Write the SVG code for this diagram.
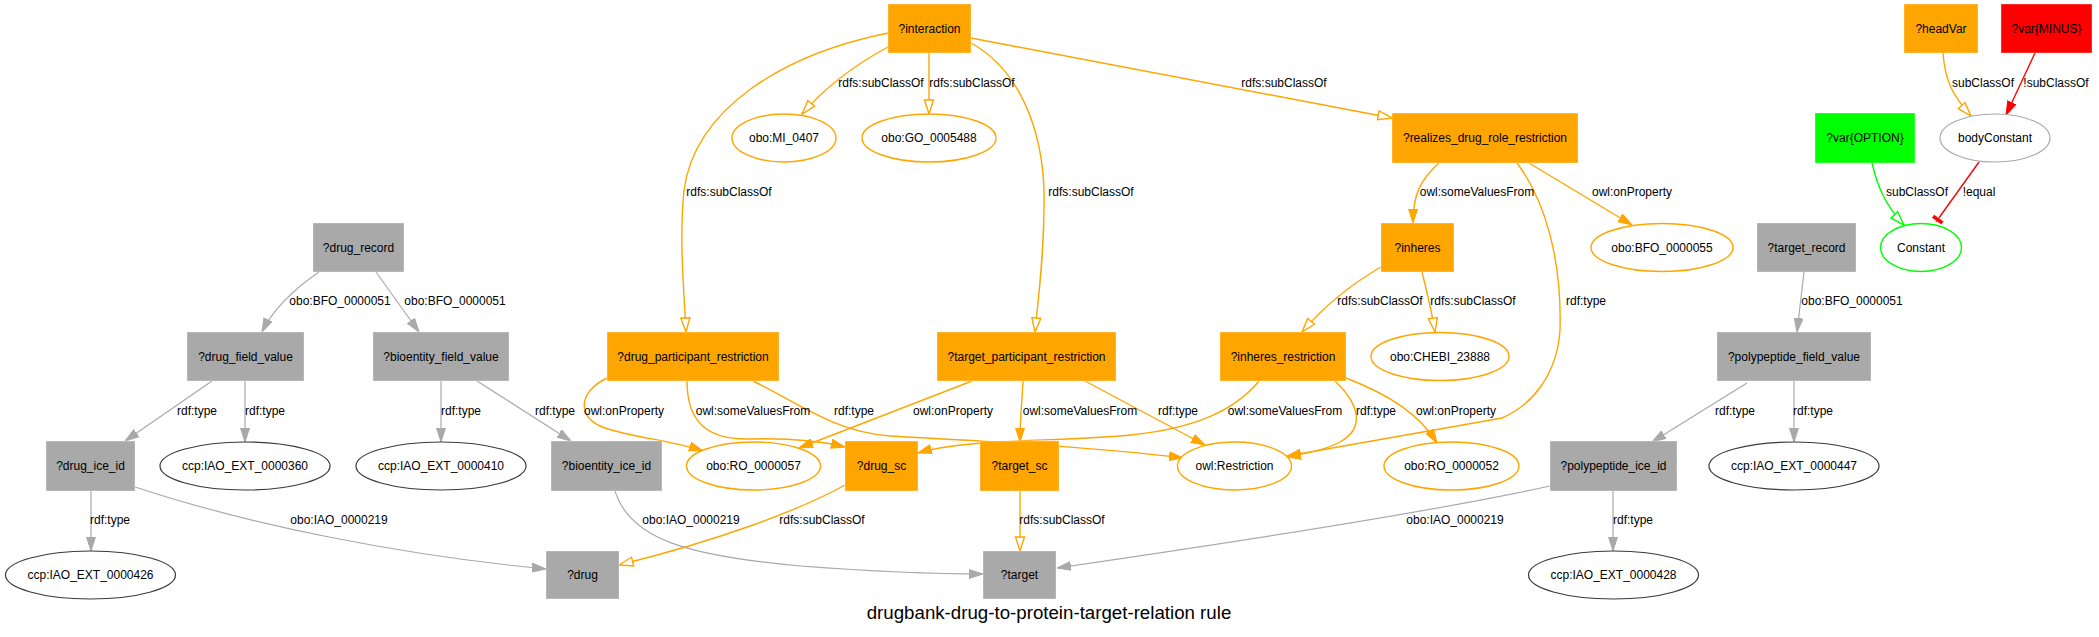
<svg xmlns="http://www.w3.org/2000/svg" width="2099" height="637" viewBox="0 0 2099 637">
<style>
text{font-family:"Liberation Sans",Arial,Helvetica,sans-serif;font-size:12px;fill:#000;text-anchor:middle}
.title{font-size:18.7px}
.bo{fill:#FFA500}
.bg{fill:#A9A9A9}
.br{fill:#FF0000}
.bn{fill:#00FF00}
rect{stroke:#fff;stroke-opacity:.35;stroke-width:1}
.eo{fill:#fff;stroke:#FFA500;stroke-width:1.4}
.ek{fill:#fff;stroke:#3a3a3a;stroke-width:1.2}
.eg{fill:#fff;stroke:#A9A9A9;stroke-width:1.2}
.en{fill:#fff;stroke:#00FF00;stroke-width:1.4}
.co path{fill:none}
.o{stroke:#FFA500;stroke-width:1.4}
.g{stroke:#A9A9A9;stroke-width:1.2}
.r{stroke:#FF0000;stroke-width:1.4}
.n{stroke:#00FF00;stroke-width:1.4}
.of{marker-end:url(#aof)}
.oh{marker-end:url(#aoh)}
.gf{marker-end:url(#agf)}
</style>
<defs>
<marker id="aof" viewBox="0 0 14 10" refX="14" refY="5" markerWidth="14" markerHeight="10" markerUnits="userSpaceOnUse" orient="auto"><path d="M0,0.5 L14,5 L0,9.5 z" fill="#FFA500" stroke="#FFA500" stroke-width="1"/></marker>
<marker id="aoh" viewBox="-1 -1 16 12" refX="14" refY="5" markerWidth="16" markerHeight="12" markerUnits="userSpaceOnUse" orient="auto"><path d="M0,0.5 L14,5 L0,9.5 z" fill="#fff" stroke="#FFA500" stroke-width="1.4"/></marker>
<marker id="agf" viewBox="0 0 14 10" refX="14" refY="5" markerWidth="14" markerHeight="10" markerUnits="userSpaceOnUse" orient="auto"><path d="M0,0.5 L14,5 L0,9.5 z" fill="#A9A9A9" stroke="#A9A9A9" stroke-width="1"/></marker>
<marker id="arf" viewBox="0 0 14 10" refX="14" refY="5" markerWidth="14" markerHeight="10" markerUnits="userSpaceOnUse" orient="auto"><path d="M0,0.5 L14,5 L0,9.5 z" fill="#FF0000" stroke="#FF0000" stroke-width="1"/></marker>
<marker id="anh" viewBox="-1 -1 16 12" refX="14" refY="5" markerWidth="16" markerHeight="12" markerUnits="userSpaceOnUse" orient="auto"><path d="M0,0.5 L14,5 L0,9.5 z" fill="#fff" stroke="#00FF00" stroke-width="1.4"/></marker>
<marker id="art" viewBox="0 0 8 12" refX="7" refY="6" markerWidth="8" markerHeight="12" markerUnits="userSpaceOnUse" orient="auto"><rect x="2" y="0" width="4" height="12" fill="#FF0000" stroke="none"/></marker>
</defs>
<rect width="2099" height="637" fill="#fff" stroke="none"/>

<g id="connectors" class="co">
<path class="o oh" d="M888,47 C860,62 830,82 802,114"/>
<path class="o oh" d="M929,53 L929,114"/>
<path class="o oh" d="M888,33 C780,55 695,110 684,190 C679,240 684,290 686,332"/>
<path class="o oh" d="M971,43 C1020,70 1042,130 1044,190 C1045,250 1038,300 1035,332"/>
<path class="o oh" d="M971,38 L1392,118"/>
<path class="o of" d="M1439,163 C1420,180 1413,195 1413,223"/>
<path class="o of" d="M1529,163 L1632,225"/>
<path class="o of" d="M1517,163 C1545,200 1562,260 1560,330 C1557,375 1532,405 1502,418 L1287,456"/>
<path class="o oh" d="M1381,267 C1350,285 1325,305 1302,332"/>
<path class="o oh" d="M1422,272 C1427,292 1432,312 1435,332"/>
<path class="o of" d="M607,378 C578,392 576,418 605,428 C635,438 670,440 703,451"/>
<path class="o of" d="M687,381 C687,420 705,440 750,439 C790,438 820,441 845,447"/>
<path class="o of" d="M753,381 C800,404 835,432 890,436 C960,440 1090,446 1183,458"/>
<path class="o of" d="M972,381 L799,448"/>
<path class="o of" d="M1023,381 C1022,400 1020,420 1020,442"/>
<path class="o of" d="M1085,381 L1205,445"/>
<path class="o of" d="M1259,381 C1235,410 1195,430 1120,436 C1030,442 960,440 918,453"/>
<path class="o of" d="M1335,381 C1360,405 1365,428 1340,442 C1325,450 1305,454 1287,457"/>
<path class="o of" d="M1346,378 C1390,395 1420,415 1437,443"/>
<path class="o oh" d="M845,485 C800,510 720,540 619,565"/>
<path class="o oh" d="M1020,491 L1020,551"/>
<path class="g gf" d="M319,272 C300,285 275,305 262,332"/>
<path class="g gf" d="M376,272 L419,332"/>
<path class="g gf" d="M212,381 L125,441"/>
<path class="g gf" d="M245,381 L245,442"/>
<path class="g gf" d="M441,381 L441,442"/>
<path class="g gf" d="M477,381 L571,441"/>
<path class="g gf" d="M91,491 L91,551"/>
<path class="g gf" d="M135,487 C250,525 400,555 546,569"/>
<path class="g gf" d="M615,491 C630,540 690,556 800,566 C880,572 940,574 983,574"/>
<path class="g gf" d="M1804,272 L1797,332"/>
<path class="g gf" d="M1747,383 L1652,442"/>
<path class="g gf" d="M1794,381 L1794,442"/>
<path class="g gf" d="M1613,491 L1613,551"/>
<path class="g gf" d="M1550,486 C1450,508 1250,540 1057,568"/>
<path class="o oh" d="M1943,53 C1945,80 1952,95 1971,116"/>
<path class="r" marker-end="url(#arf)" d="M2035,53 L2006,115"/>
<path class="n" marker-end="url(#anh)" d="M1872,163 C1877,185 1885,205 1904,225"/>
<path class="r" marker-end="url(#art)" d="M1979,162 L1936,222"/>

<text x="881" y="87">rdfs:subClassOf</text>
<text x="972" y="87">rdfs:subClassOf</text>
<text x="729" y="196">rdfs:subClassOf</text>
<text x="1091" y="196">rdfs:subClassOf</text>
<text x="1284" y="87">rdfs:subClassOf</text>
<text x="1477" y="196">owl:someValuesFrom</text>
<text x="1632" y="196">owl:onProperty</text>
<text x="1586" y="305">rdf:type</text>
<text x="1380" y="305">rdfs:subClassOf</text>
<text x="1473" y="305">rdfs:subClassOf</text>
<text x="624" y="415">owl:onProperty</text>
<text x="753" y="415">owl:someValuesFrom</text>
<text x="854" y="415">rdf:type</text>
<text x="953" y="415">owl:onProperty</text>
<text x="1080" y="415">owl:someValuesFrom</text>
<text x="1178" y="415">rdf:type</text>
<text x="1285" y="415">owl:someValuesFrom</text>
<text x="1376" y="415">rdf:type</text>
<text x="1456" y="415">owl:onProperty</text>
<text x="822" y="524">rdfs:subClassOf</text>
<text x="1062" y="524">rdfs:subClassOf</text>
<text x="340" y="305">obo:BFO_0000051</text>
<text x="455" y="305">obo:BFO_0000051</text>
<text x="197" y="415">rdf:type</text>
<text x="265" y="415">rdf:type</text>
<text x="461" y="415">rdf:type</text>
<text x="555" y="415">rdf:type</text>
<text x="110" y="524">rdf:type</text>
<text x="339" y="524">obo:IAO_0000219</text>
<text x="691" y="524">obo:IAO_0000219</text>
<text x="1852" y="305">obo:BFO_0000051</text>
<text x="1735" y="415">rdf:type</text>
<text x="1813" y="415">rdf:type</text>
<text x="1633" y="524">rdf:type</text>
<text x="1455" y="524">obo:IAO_0000219</text>
<text x="1983" y="87">subClassOf</text>
<text x="2056" y="87">!subClassOf</text>
<text x="1917" y="196">subClassOf</text>
<text x="1979" y="196">!equal</text>
</g>

<g id="n_interaction"><rect class="bo" x="888" y="4" width="83" height="49"/><text x="929.5" y="32.5">?interaction</text></g>
<g id="n_headVar"><rect class="bo" x="1904" y="4" width="74" height="49"/><text x="1941" y="32.5">?headVar</text></g>
<g id="n_varMINUS"><rect class="br" x="2001" y="4" width="91" height="49"/><text x="2046.5" y="32.5">?var{MINUS}</text></g>
<g id="n_MI_0407"><ellipse class="eo" cx="784" cy="138" rx="52" ry="24"/><text x="784" y="142">obo:MI_0407</text></g>
<g id="n_GO_0005488"><ellipse class="eo" cx="929" cy="138" rx="67" ry="24"/><text x="929" y="142">obo:GO_0005488</text></g>
<g id="n_realizes"><rect class="bo" x="1392" y="113" width="186" height="50"/><text x="1485" y="142">?realizes_drug_role_restriction</text></g>
<g id="n_varOPTION"><rect class="bn" x="1815" y="113" width="100" height="50"/><text x="1865" y="142">?var{OPTION}</text></g>
<g id="n_bodyConstant"><ellipse class="eg" cx="1995" cy="138" rx="55" ry="24"/><text x="1995" y="142">bodyConstant</text></g>
<g id="n_drug_record"><rect class="bg" x="313" y="223" width="91" height="49"/><text x="358.5" y="251.5">?drug_record</text></g>
<g id="n_inheres"><rect class="bo" x="1381" y="223" width="73" height="49"/><text x="1417.5" y="251.5">?inheres</text></g>
<g id="n_BFO_0000055"><ellipse class="eo" cx="1662" cy="247.5" rx="71" ry="24"/><text x="1662" y="251.5">obo:BFO_0000055</text></g>
<g id="n_target_record"><rect class="bg" x="1757" y="223" width="99" height="49"/><text x="1806.5" y="251.5">?target_record</text></g>
<g id="n_Constant"><ellipse class="en" cx="1921" cy="247.5" rx="40.5" ry="24"/><text x="1921" y="251.5">Constant</text></g>
<g id="n_drug_field_value"><rect class="bg" x="187" y="332" width="117" height="49"/><text x="245.5" y="360.5">?drug_field_value</text></g>
<g id="n_bioentity_field_value"><rect class="bg" x="373" y="332" width="136" height="49"/><text x="441" y="360.5">?bioentity_field_value</text></g>
<g id="n_drug_participant_restriction"><rect class="bo" x="607" y="332" width="172" height="49"/><text x="693" y="360.5">?drug_participant_restriction</text></g>
<g id="n_target_participant_restriction"><rect class="bo" x="937" y="332" width="179" height="49"/><text x="1026.5" y="360.5">?target_participant_restriction</text></g>
<g id="n_inheres_restriction"><rect class="bo" x="1220" y="332" width="126" height="49"/><text x="1283" y="360.5">?inheres_restriction</text></g>
<g id="n_CHEBI_23888"><ellipse class="eo" cx="1440" cy="356.5" rx="69" ry="24"/><text x="1440" y="360.5">obo:CHEBI_23888</text></g>
<g id="n_polypeptide_field_value"><rect class="bg" x="1717" y="332" width="154" height="49"/><text x="1794" y="360.5">?polypeptide_field_value</text></g>
<g id="n_drug_ice_id"><rect class="bg" x="46" y="441" width="89" height="50"/><text x="90.5" y="470">?drug_ice_id</text></g>
<g id="n_IAO_EXT_0000360"><ellipse class="ek" cx="245" cy="466" rx="85" ry="24"/><text x="245" y="470">ccp:IAO_EXT_0000360</text></g>
<g id="n_IAO_EXT_0000410"><ellipse class="ek" cx="441" cy="466" rx="85" ry="24"/><text x="441" y="470">ccp:IAO_EXT_0000410</text></g>
<g id="n_bioentity_ice_id"><rect class="bg" x="551" y="441" width="111" height="50"/><text x="606.5" y="470">?bioentity_ice_id</text></g>
<g id="n_RO_0000057"><ellipse class="eo" cx="753.5" cy="466" rx="67" ry="24"/><text x="753.5" y="470">obo:RO_0000057</text></g>
<g id="n_drug_sc"><rect class="bo" x="845" y="441" width="73" height="50"/><text x="881.5" y="470">?drug_sc</text></g>
<g id="n_target_sc"><rect class="bo" x="980" y="441" width="79" height="50"/><text x="1019.5" y="470">?target_sc</text></g>
<g id="n_owlRestriction"><ellipse class="eo" cx="1234.5" cy="466" rx="57" ry="24"/><text x="1234.5" y="470">owl:Restriction</text></g>
<g id="n_RO_0000052"><ellipse class="eo" cx="1451.5" cy="466" rx="67.5" ry="24"/><text x="1451.5" y="470">obo:RO_0000052</text></g>
<g id="n_polypeptide_ice_id"><rect class="bg" x="1550" y="441" width="127" height="50"/><text x="1613.5" y="470">?polypeptide_ice_id</text></g>
<g id="n_IAO_EXT_0000447"><ellipse class="ek" cx="1794" cy="466" rx="85" ry="24"/><text x="1794" y="470">ccp:IAO_EXT_0000447</text></g>
<g id="n_IAO_EXT_0000426"><ellipse class="ek" cx="90.5" cy="575" rx="85" ry="24"/><text x="90.5" y="579">ccp:IAO_EXT_0000426</text></g>
<g id="n_drug"><rect class="bg" x="546" y="551" width="73" height="48"/><text x="582.5" y="579">?drug</text></g>
<g id="n_target"><rect class="bg" x="983" y="551" width="73" height="48"/><text x="1019.5" y="579">?target</text></g>
<g id="n_IAO_EXT_0000428"><ellipse class="ek" cx="1613.5" cy="575" rx="85" ry="24"/><text x="1613.5" y="579">ccp:IAO_EXT_0000428</text></g>

<text class="title" x="1049" y="619">drugbank-drug-to-protein-target-relation rule</text>
</svg>
